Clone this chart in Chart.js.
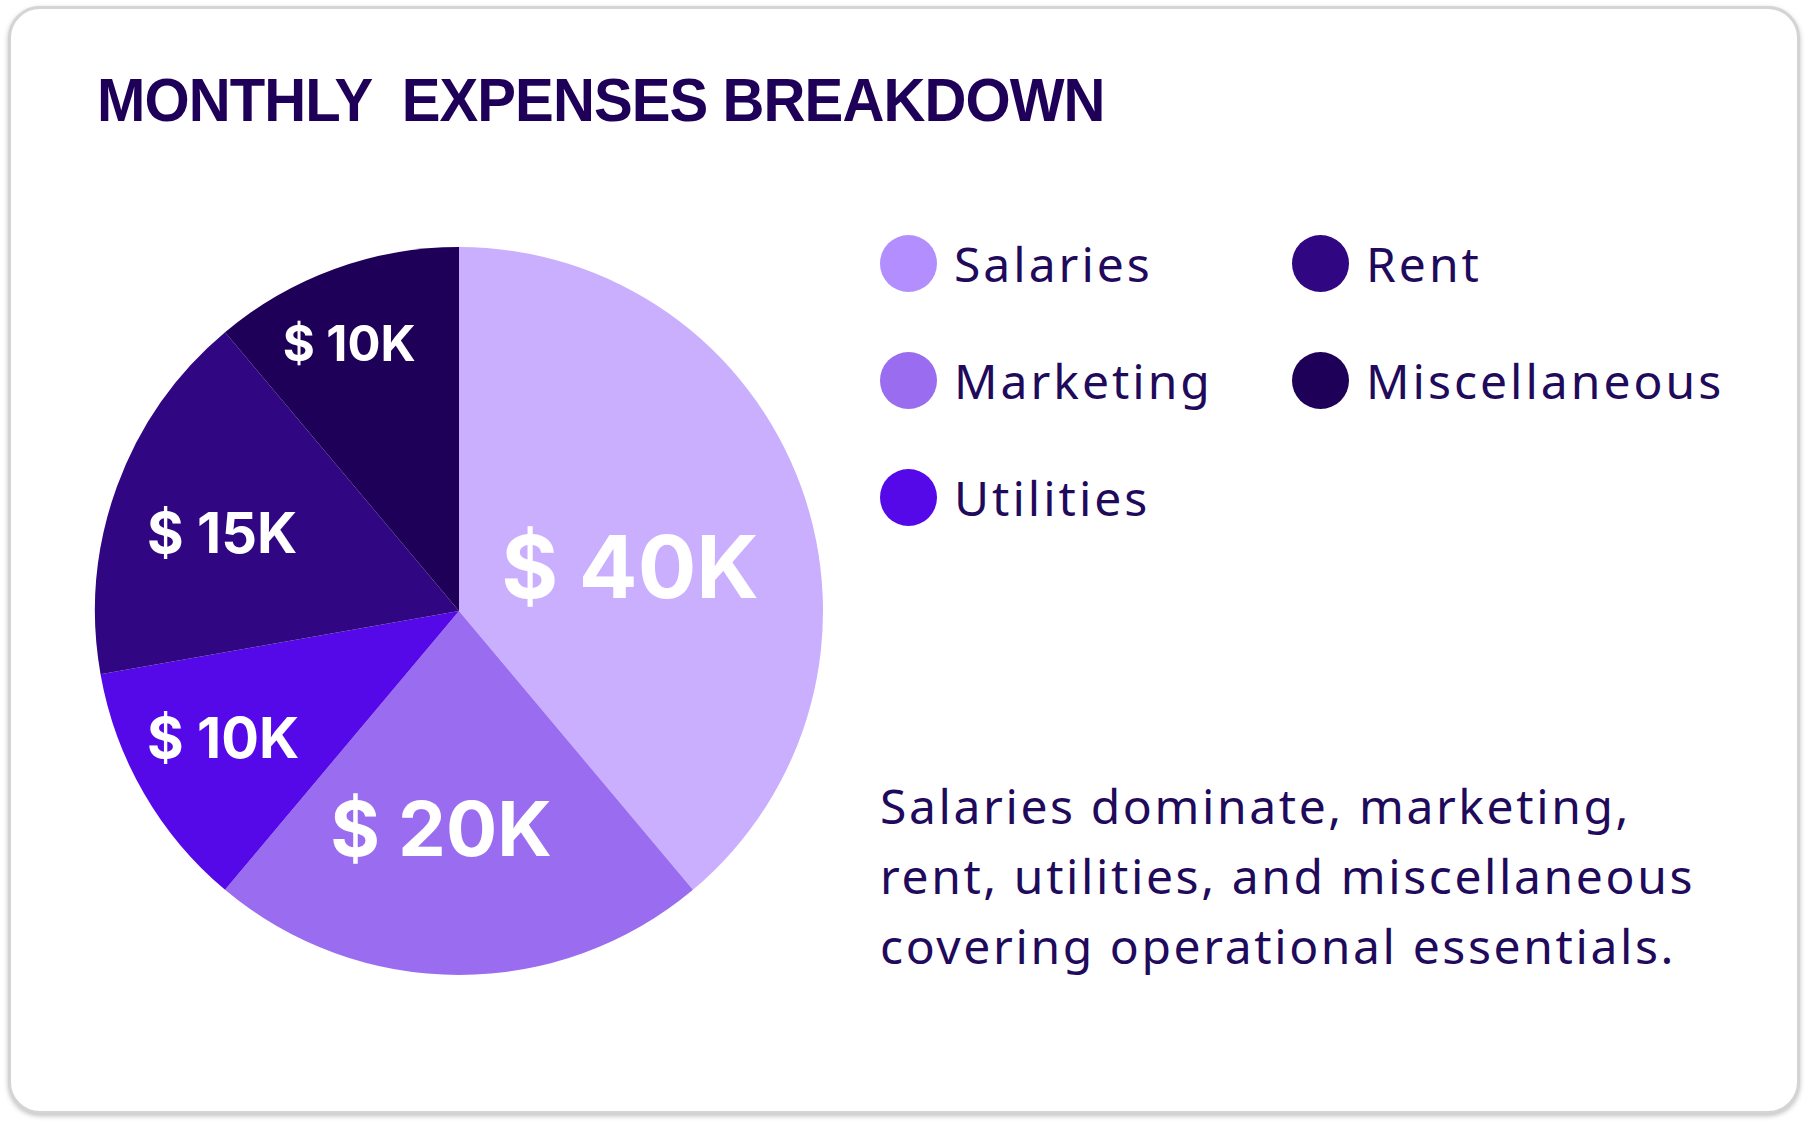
<!DOCTYPE html>
<html>
<head>
<meta charset="utf-8">
<title>Monthly Expenses Breakdown</title>
<script src="https://cdn.jsdelivr.net/npm/chart.js@4.4.1/dist/chart.umd.min.js"></script>
<style>
    html, body {
        margin: 0;
        padding: 0;
        background: #ffffff;
        width: 1809px;
        height: 1127px;
        overflow: hidden;
    }
    .card {
        position: absolute;
        left: 8px;
        top: 6px;
        width: 1786px;
        height: 1102px;
        border: 3px solid #d4d4d4;
        border-radius: 32px;
        box-shadow: 0 2px 5px rgba(0, 0, 0, 0.25);
        background: #ffffff;
    }
    .title {
        position: absolute;
        left: 97px;
        top: 69px;
        margin: 0;
        font-family: "Liberation Sans", Arial, sans-serif;
        font-weight: 700;
        font-size: 62px;
        line-height: 1;
        letter-spacing: -1px;
        color: #1f0058;
        white-space: pre;
        transform: scaleX(0.937);
        transform-origin: left top;
    }
    .pie-box {
        position: absolute;
        left: 89px;
        top: 241px;
        width: 740px;
        height: 740px;
    }
    .legend {
        position: absolute;
        left: 880px;
        top: 205px;
        display: grid;
        grid-auto-flow: column;
        grid-template-rows: repeat(3, 117px);
        grid-template-columns: 412px auto;
    }
    .legend-item {
        display: flex;
        align-items: center;
        font-family: "Noto Sans", sans-serif;
        font-size: 48px;
        color: #1f0a5c;
        letter-spacing: 3px;
    }
    .legend-dot {
        width: 57px;
        height: 57px;
        border-radius: 50%;
        margin-right: 17px;
        flex: none;
    }
    .note {
        position: absolute;
        left: 880px;
        top: 771px;
        margin: 0;
        font-family: "Noto Sans", sans-serif;
        font-size: 48px;
        line-height: 70px;
        color: #1f0a5c;
        letter-spacing: 2.6px;
        white-space: nowrap;
    }
</style>
</head>
<body>
<div class="card">
</div>
<h1 class="title">MONTHLY  EXPENSES BREAKDOWN</h1>
<div class="pie-box"><canvas id="myChart"></canvas></div>
<div class="legend"></div>
<p class="note">Salaries dominate, marketing,<br>rent, utilities, and miscellaneous<br>covering operational essentials.</p>

<script>
    // Data
    const categories = ["Salaries", "Marketing", "Utilities", "Rent", "Miscellaneous"];
    // slice sizes as they are drawn (angles)
    const sliceValues = [35, 20, 10, 15, 10];
    // amounts printed on the slices, in $K
    const labelAmounts = [40, 20, 10, 15, 10];

    const sliceColors = ["#c9affe", "#9a6cf0", "#5509e8", "#310683", "#1f0058"];
    const legendColors = ["#b38eff", "#9a6cf0", "#5509e8", "#310683", "#1f0058"];

    // legend goes down the first column, then the second
    const legendOrder = [0, 1, 2, 3, 4];

    // label look per slice
    const labelSize = [87, 76, 56, 56, 49];
    const labelDist = [0.486, 0.60, 0.736, 0.685, 0.795];
    const labelTurn = [5.3, 4.7, 1.7, -1.8, -2.3];

    // Build the legend
    let legend = document.querySelector(".legend");
    let content = '';
    legendOrder.forEach(i => {
        content += `
        <div class="legend-item">
            <span class="legend-dot" style="background:${legendColors[i]}"></span>
            <span>${categories[i]}</span>
        </div>
        `;
    });
    legend.innerHTML = content;

    // Draw the $ amounts inside the slices
    const sliceLabels = {
        id: 'sliceLabels',
        afterDatasetsDraw(chart) {
            const ctx = chart.ctx;
            const meta = chart.getDatasetMeta(0);
            ctx.save();
            ctx.fillStyle = '#ffffff';
            ctx.textAlign = 'center';
            ctx.textBaseline = 'alphabetic';
            meta.data.forEach((arc, i) => {
                const p = arc.getProps(['x', 'y', 'startAngle', 'endAngle', 'outerRadius'], true);
                const mid = (p.startAngle + p.endAngle) / 2 + labelTurn[i] * Math.PI / 180;
                const r = p.outerRadius * labelDist[i];
                const x = p.x + Math.cos(mid) * r;
                const y = p.y + Math.sin(mid) * r;
                ctx.font = `700 ${labelSize[i]}px Inter, "Noto Sans", sans-serif`;
                ctx.fillText(`$ ${labelAmounts[i]}K`, x, y + labelSize[i] * 0.727 / 2);
            });
            ctx.restore();
        }
    };

    const ctx = document.getElementById('myChart').getContext('2d');
    const myChart = new Chart(ctx, {
        type: 'pie',
        data: {
            labels: categories,
            datasets: [{
                data: sliceValues,
                backgroundColor: sliceColors,
                borderWidth: 0
            }]
        },
        options: {
            responsive: true,
            maintainAspectRatio: false,
            animation: false,
            layout: { padding: 6 },
            plugins: {
                legend: { display: false },
                tooltip: { enabled: false }
            }
        },
        plugins: [sliceLabels]
    });
</script>
</body>
</html>
